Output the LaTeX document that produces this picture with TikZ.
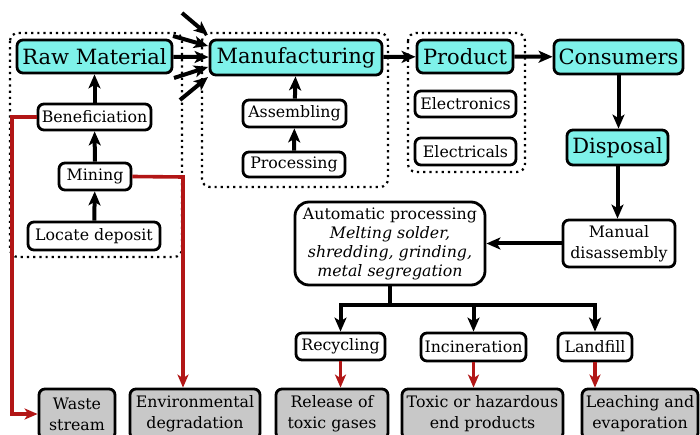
\documentclass[tikz,border=0pt]{standalone}
\usepackage{fontspec}
\setmainfont{DejaVu Serif}
\usetikzlibrary{arrows.meta,calc}
\definecolor{cyanbox}{RGB}{126,242,234}
\definecolor{greybox}{RGB}{200,200,200}
\definecolor{redline}{RGB}{178,22,22}
\begin{document}
\begin{tikzpicture}[x=1pt,y=-1pt,
 box/.style={draw=black,line width=2.8pt,rounded corners=6pt,inner sep=0pt,align=center},
 big/.style={box,fill=cyanbox,font=\fontsize{21}{24}\selectfont},
 small/.style={box,fill=white,font=\fontsize{15.8}{20}\selectfont},
 effect/.style={box,fill=greybox,font=\fontsize{15.8}{21}\selectfont},
 group/.style={draw=black,line width=2.2pt,dash pattern=on 2.2pt off 4pt,rounded corners=8pt},
 flow/.style={line width=4pt,-{Stealth[length=14pt,width=12pt,inset=3.5pt]}},
 bar/.style={line width=4pt},
 harm/.style={draw=redline,line width=3.6pt,-{Stealth[length=13pt,width=11pt,inset=3.5pt]}},
]
\useasboundingbox (0,0) rectangle (700,435);
\clip (0,0) rectangle (700,435);
\fill[white] (0,0) rectangle (700,435);

% dotted groups
\draw[group] (10,33) rectangle (182,257);
\draw[group] (202,33) rectangle (388,187);
\draw[group] (408,33) rectangle (525,172);

% nodes
\node[big, minimum width=155pt, minimum height=33pt] (raw) at (94.5,56.5) {Raw Material};
\node[small, minimum width=113pt, minimum height=26pt] (benef) at (94.5,117) {Beneficiation};
\node[small, minimum width=72pt, minimum height=27pt] (mining) at (95,176.5) {Mining};
\node[small, minimum width=132pt, minimum height=28pt] (locate) at (94,236) {Locate deposit};

\node[big, minimum width=172pt, minimum height=35pt] (manuf) at (296,57.5) {Manufacturing};
\node[small, minimum width=103pt, minimum height=27pt] (assem) at (294.5,113.5) {Assembling};
\node[small, minimum width=102pt, minimum height=25pt] (proc) at (294,164.5) {Processing};

\node[big, minimum width=96pt, minimum height=33pt] (product) at (465,56.5) {Product};
\node[small, minimum width=101pt, minimum height=26pt] (electronics) at (465.5,104) {Electronics};
\node[small, minimum width=101pt, minimum height=27pt] (electricals) at (465.5,151.5) {Electricals};

\node[big, minimum width=129pt, minimum height=34pt] (consumers) at (618.5,57) {Consumers};
\node[big, minimum width=101pt, minimum height=35pt] (disposal) at (617.5,147.5) {Disposal};

\node[small, minimum width=112pt, minimum height=47pt, font=\fontsize{15.8}{21}\selectfont] (manual) at (619,243.5) {Manual\\disassembly};
\node[small, minimum width=190pt, minimum height=83pt, rounded corners=14pt, font=\fontsize{15.8}{19}\selectfont] (auto) at (390,243.5)
  {Automatic processing\\\textit{Melting solder,}\\\textit{shredding, grinding,}\\\textit{metal segregation}};

\node[small, minimum width=89pt, minimum height=27pt] (recyc) at (340.5,346.5) {Recycling};
\node[small, minimum width=105pt, minimum height=28pt] (incin) at (473.5,347) {Incineration};
\node[small, minimum width=74pt, minimum height=28pt] (landfill) at (595,347) {Landfill};

\node[effect, minimum width=76pt, minimum height=50pt] (waste) at (77,414) {Waste\\stream};
\node[effect, minimum width=130pt, minimum height=50pt] (env) at (195,414) {Environmental\\degradation};
\node[effect, minimum width=112pt, minimum height=50pt] (release) at (332,414) {Release of\\toxic gases};
\node[effect, minimum width=161pt, minimum height=50pt] (toxic) at (482.5,414) {Toxic or hazardous\\end products};
\node[effect, minimum width=116pt, minimum height=50pt] (leach) at (640,414) {Leaching and\\evaporation};

% raw material chain
\draw[flow] (locate) -- (mining);
\draw[flow] (mining) -- (benef);
\draw[flow] (benef) -- (raw);
% manufacturing chain
\draw[flow] (proc) -- (assem);
\draw[flow] (assem) -- (manuf);

% inputs into manufacturing
\coordinate (t1) at (182,13);  \coordinate (h1) at (208,35);
\coordinate (t2) at (173,36);  \coordinate (h2) at (208,46);
\coordinate (t4) at (174,78);  \coordinate (h4) at (208,67);
\coordinate (t5) at (180,100); \coordinate (h5) at (208,77);
\draw[flow] (t1) -- (h1);
\draw[flow] (t2) -- (h2);
\draw[flow] (raw) -- (manuf);
\draw[flow] (t4) -- (h4);
\draw[flow] (t5) -- (h5);

\draw[flow] (manuf) -- (product);
\draw[flow] (product) -- (consumers);
\draw[flow] (consumers.south) -- (consumers.south |- disposal.north);
\draw[flow] (disposal.south) -- (disposal.south |- manual.north);
\draw[flow] (manual) -- (auto);

% split to end-of-life options
\coordinate (split) at (390,305);
\draw[bar] (auto.south) -- (split);
\draw[flow] (split) -| (recyc.north);
\draw[flow] (split) -| (incin.north);
\draw[flow] (split) -| (landfill.north);

% harmful effects
\coordinate (wcorner) at (12,414);
\coordinate (ecorner) at (183,177);
\draw[harm] (benef.west) -| (wcorner) -- (waste.west);
\draw[harm] (mining.east) -- (ecorner) -- (ecorner |- env.north);
\draw[harm] (recyc.south) -- (recyc.south |- release.north);
\draw[harm] (incin.south) -- (incin.south |- toxic.north);
\draw[harm] (landfill.south) -- (landfill.south |- leach.north);
\end{tikzpicture}
\end{document}
